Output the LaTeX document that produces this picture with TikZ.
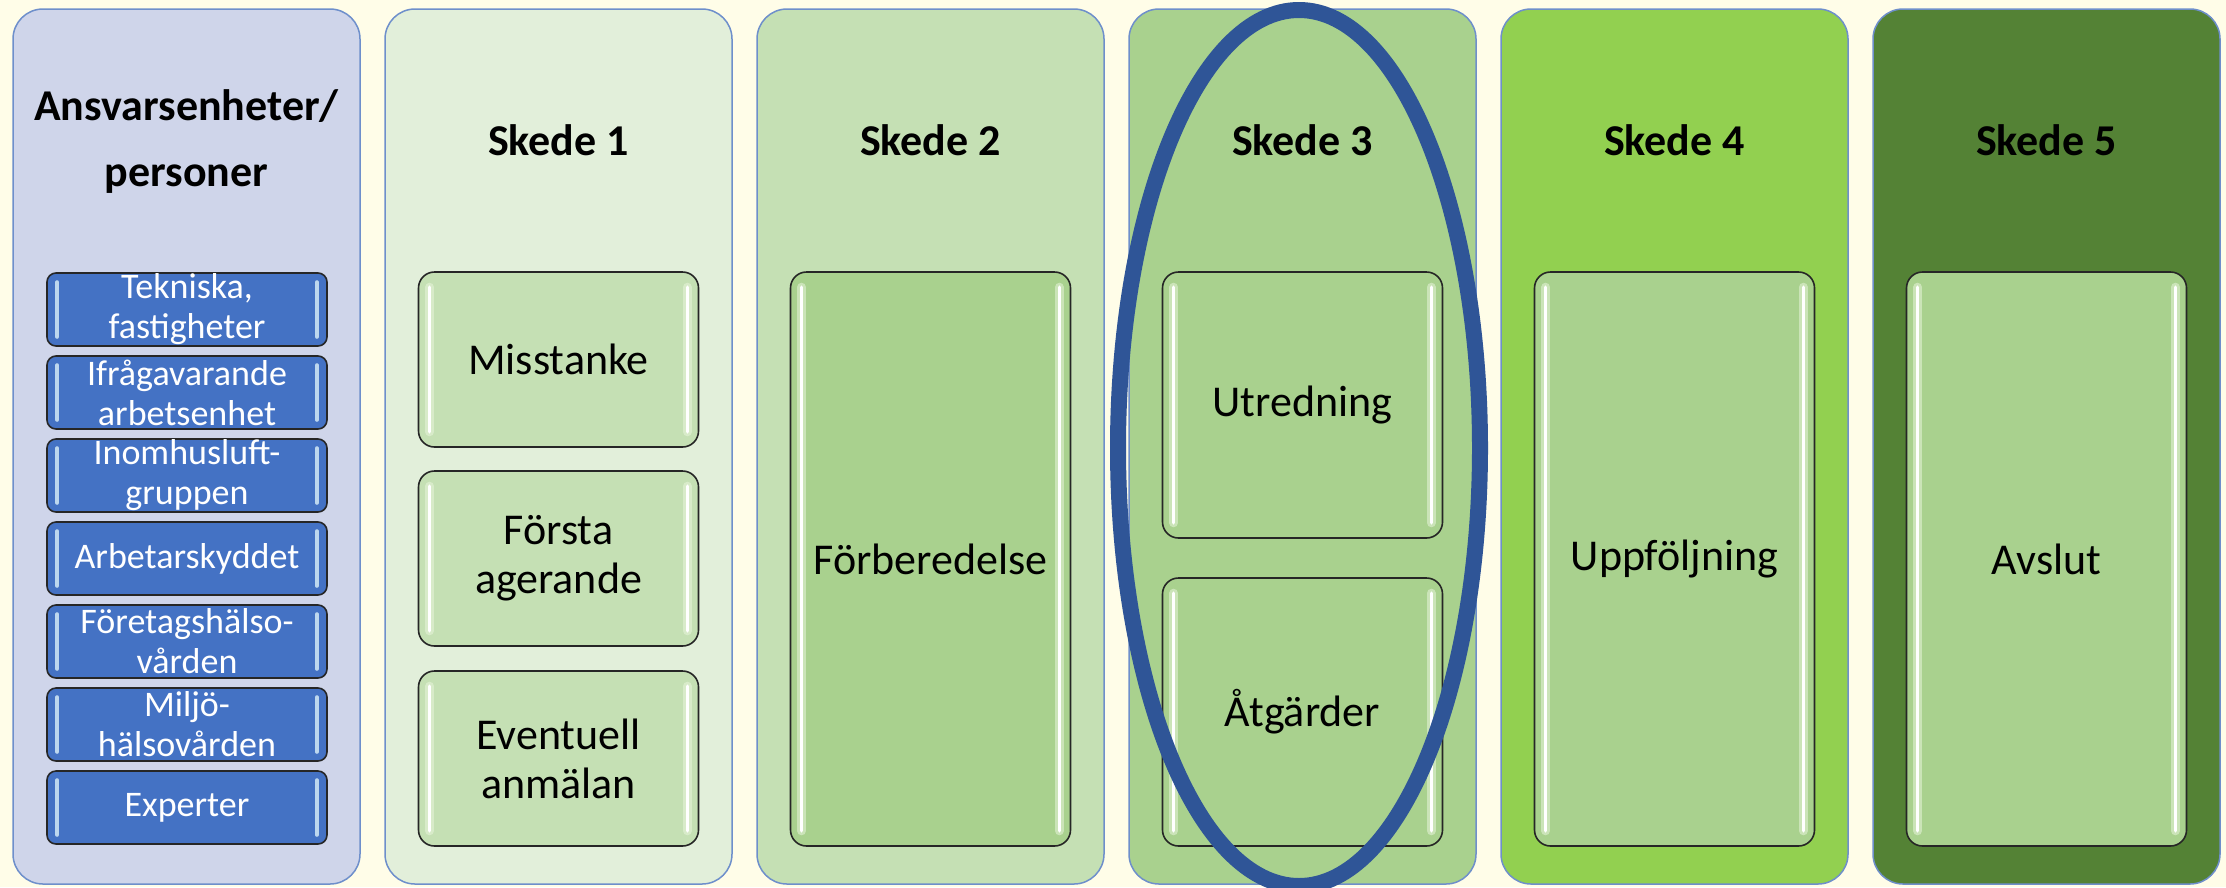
\documentclass[tikz,border=0pt]{standalone}
\usepackage{fontspec}
\setmainfont{Carlito}
\definecolor{bg}{HTML}{FFFDE8}
\definecolor{pzero}{HTML}{CFD5EA}
\definecolor{pone}{HTML}{E2EFDA}
\definecolor{ptwo}{HTML}{C5E0B4}
\definecolor{pthree}{HTML}{A9D18E}
\definecolor{pfour}{HTML}{92D050}
\definecolor{pfive}{HTML}{548235}
\definecolor{pborder}{HTML}{6E8FCB}
\definecolor{bluebox}{HTML}{4472C4}
\definecolor{bluehl}{HTML}{BDD7EE}
\definecolor{ellcol}{HTML}{2F5597}
\definecolor{greenhalo}{HTML}{E8F5DC}
\newcommand\glossbox[2]{%
  \draw[line width=9pt, line cap=round, #2, opacity=0.55]
    ([xshift=12pt,yshift=-16pt]#1.north west) -- ([xshift=12pt,yshift=16pt]#1.south west);
  \draw[line width=9pt, line cap=round, #2, opacity=0.55]
    ([xshift=-12pt,yshift=-16pt]#1.north east) -- ([xshift=-12pt,yshift=16pt]#1.south east);
  \draw[line width=3.5pt, line cap=round, white]
    ([xshift=12pt,yshift=-16pt]#1.north west) -- ([xshift=12pt,yshift=16pt]#1.south west);
  \draw[line width=3.5pt, line cap=round, white]
    ([xshift=-12pt,yshift=-16pt]#1.north east) -- ([xshift=-12pt,yshift=16pt]#1.south east);
}
\newcommand\glossblue[1]{%
  \draw[line width=4pt, line cap=round, bluehl]
    ([xshift=11pt,yshift=-10pt]#1.north west) -- ([xshift=11pt,yshift=10pt]#1.south west);
  \draw[line width=4pt, line cap=round, bluehl]
    ([xshift=-11pt,yshift=-10pt]#1.north east) -- ([xshift=-11pt,yshift=10pt]#1.south east);
}
\tikzset{
  panel/.style={draw=pborder, line width=1.5pt, rounded corners=30pt,
    minimum width=347pt, minimum height=875pt, inner sep=0pt},
  titletext/.style={font=\bfseries\fontsize{44}{66}\selectfont, align=center, inner sep=0pt},
  gbox/.style={draw=black!85, line width=1.6pt, rounded corners=16pt,
    minimum width=280pt, inner sep=0pt, font=\fontsize{44}{49}\selectfont, align=center},
  bbox/.style={draw=black!85, fill=bluebox, line width=1.6pt, rounded corners=9pt,
    minimum width=280pt, minimum height=73pt, inner sep=0pt, text=white,
    font=\fontsize{36}{40}\selectfont, align=center},
}
\begin{document}
\begin{tikzpicture}[x=1pt, y=-1pt]
\fill[bg] (0,0) rectangle (2226,887);
\useasboundingbox (0,0) rectangle (2226,887);

% panels
\node[panel, fill=pzero]  (P0) at (186.5,446.5) {};
\node[panel, fill=pone]   (P1) at (558.5,446.5) {};
\node[panel, fill=ptwo]   (P2) at (930.5,446.5) {};
\node[panel, fill=pthree] (P3) at (1302.5,446.5) {};
\node[panel, fill=pfour]  (P4) at (1674.5,446.5) {};
\node[panel, fill=pfive]  (P5) at (2046.5,446.5) {};

% titles
\node[titletext, anchor=base] (T0a) at (186.5,120) {Ansvarsenheter/};
\node[titletext, anchor=base] (T0b) at (186.5,186) {personer};
\node[titletext, anchor=base] (T1) at (558.5,155) {Skede 1};
\node[titletext, anchor=base] (T2) at (930.5,155) {Skede 2};
\node[titletext, anchor=base] (T3) at (1302.5,155) {Skede 3};
\node[titletext, anchor=base] (T4) at (1674.5,155) {Skede 4};
\node[titletext, anchor=base] (T5) at (2046.5,155) {Skede 5};

% blue boxes
\node[bbox] (B1) at (187,309.5) {Tekniska,\\fastigheter};
\node[bbox] (B2) at (187,392.5) {Ifrågavarande\\arbetsenhet};
\node[bbox] (B3) at (187,475.5) {Inomhusluft-\\gruppen};
\node[bbox] (B4) at (187,558.5) {Arbetarskyddet};
\node[bbox] (B5) at (187,641.5) {Företagshälso-\\vården};
\node[bbox] (B6) at (187,724.5) {Miljö-\\hälsovården};
\node[bbox] (B7) at (187,807.5) {Experter};
\glossblue{B1}\glossblue{B2}\glossblue{B3}\glossblue{B4}\glossblue{B5}\glossblue{B6}\glossblue{B7}

% green boxes
\node[gbox, fill=ptwo, minimum height=175pt] (G1) at (558.5,359.5) {Misstanke};
\node[gbox, fill=ptwo, minimum height=175pt] (G2) at (558.5,558.5) {Första\\agerande};
\node[gbox, fill=ptwo, minimum height=175pt] (G3) at (558.5,758.5) {Eventuell\\anmälan};
\node[gbox, fill=pthree, minimum height=574pt] (G4) at (930.5,559) {Förberedelse};
\node[gbox, fill=pthree, minimum height=266pt] (G5) at (1302.5,405) {Utredning};
\node[gbox, fill=pthree, minimum height=268pt] (G6) at (1302.5,712) {Åtgärder};
\node[gbox, fill=pthree, minimum height=574pt] (G7) at (1674.5,559) {Uppföljning};
\node[gbox, fill=pthree, minimum height=574pt] (G8) at (2046.5,559) {Avslut};
\glossbox{G1}{greenhalo}\glossbox{G2}{greenhalo}\glossbox{G3}{greenhalo}
\glossbox{G4}{greenhalo}\glossbox{G5}{greenhalo}\glossbox{G6}{greenhalo}
\glossbox{G7}{greenhalo}\glossbox{G8}{greenhalo}

% highlight ellipse
\draw[ellcol, line width=16pt] (1299,448) ellipse [x radius=181pt, y radius=438pt];
\end{tikzpicture}
\end{document}
